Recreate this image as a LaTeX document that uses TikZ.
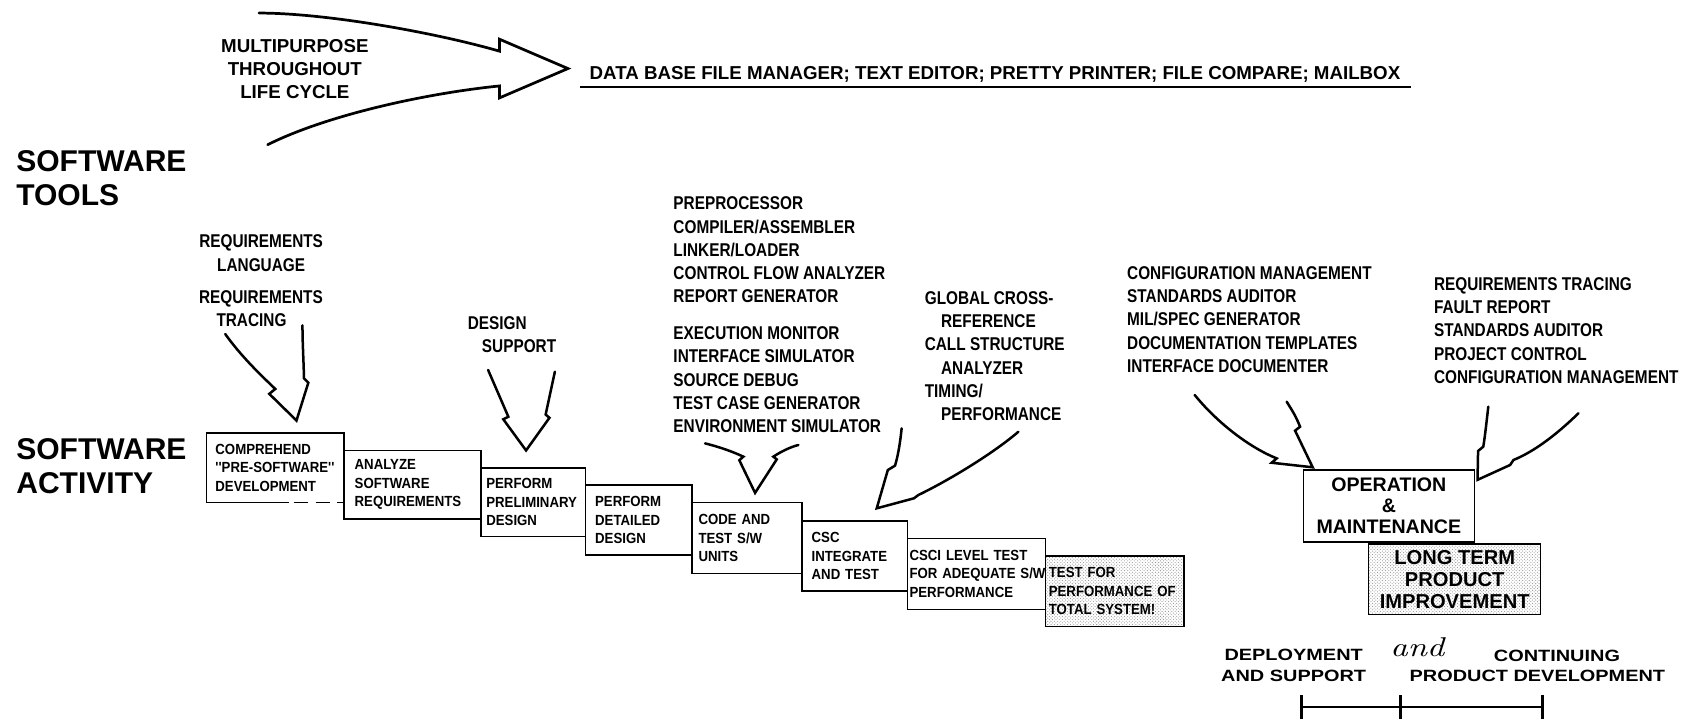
\documentclass[tikz,border=0pt]{standalone}
\usepackage{fontspec}
\setmainfont{Liberation Sans}
\newfontfamily\labfont[FakeStretch=0.83]{Liberation Sans}
\newfontfamily\cellfont[FakeStretch=0.9]{Liberation Sans}
\newfontfamily\widefont[FakeStretch=1.22]{Liberation Sans}
\newfontfamily\andfont[FakeStretch=1.25]{lmroman10-italic.otf}
\usetikzlibrary{patterns}
\begin{document}
\begin{tikzpicture}[x=1pt,y=-1pt,
  every node/.style={inner sep=0pt, outer sep=0pt},
  lab/.style={font={\labfont\bfseries\fontsize{17}{21.4}\selectfont}, align=left, anchor=north west},
  head/.style={font={\bfseries\fontsize{17.2}{21.5}\selectfont}},
  big/.style={font={\bfseries\fontsize{27.6}{31.5}\selectfont}, align=left, anchor=north west},
  stepbox/.style={draw, line width=1.4pt, font={\cellfont\bfseries\fontsize{13.5}{17}\selectfont},
    align=left, anchor=north west, inner ysep=0pt},
  stipple/.style={pattern=crosshatch dots, pattern color=black!45},
  tool/.style={line width=2.3pt, line join=miter, miter limit=4, line cap=round},
  phase/.style={font={\widefont\bfseries\fontsize{15}{19}\selectfont}, align=center},
]
\useasboundingbox (0,0) rectangle (1568,661);

% ---------- general purpose tools ----------
\node[head, align=center, anchor=north] (multi) at (271,35.8) {MULTIPURPOSE\\THROUGHOUT\\LIFE CYCLE};
\node[head, anchor=base west] (db) at (542,73.2)
  {DATA BASE FILE MANAGER; TEXT EDITOR; PRETTY PRINTER; FILE COMPARE; MAILBOX};
\draw[line width=2.4pt] (533,80) -- (1297,80);
\coordinate (mtip) at (522,63);
\coordinate (mtop) at (238,12);
\coordinate (mbot) at (246,133);
\draw[tool, line width=2.5pt] (mtop) .. controls (300,12) and (400,30) .. (459,47) -- (459,36) -- (mtip)
  -- (459,90) -- (459,79) .. controls (390,86) and (300,106) .. (mbot);

% ---------- row headings ----------
\node[big] (tools) at (15,138.1) {SOFTWARE\\TOOLS};
\node[big] (activity) at (15,403.1) {SOFTWARE\\ACTIVITY};

% ---------- tool lists ----------
\node[lab, align=center, anchor=north] (rlang) at (240,215.9) {REQUIREMENTS\\LANGUAGE};
\node[lab] (rtrace) at (183,266.9) {REQUIREMENTS\\\hspace*{16pt}TRACING};
\node[lab] (dsup) at (430,290.9) {DESIGN\\\hspace*{13pt}SUPPORT};
\node[lab] (ctools) at (619,180.9) {PREPROCESSOR\\COMPILER/ASSEMBLER\\LINKER/LOADER\\CONTROL FLOW ANALYZER\\REPORT GENERATOR\\[12.3pt]EXECUTION MONITOR\\INTERFACE SIMULATOR\\SOURCE DEBUG\\TEST CASE GENERATOR\\ENVIRONMENT SIMULATOR};
\node[lab] (xref) at (850,267.9) {GLOBAL CROSS-\\\hspace*{15pt}REFERENCE\\CALL STRUCTURE\\\hspace*{15pt}ANALYZER\\TIMING/\\\hspace*{15pt}PERFORMANCE};
\node[lab] (cmtools) at (1036,244.9) {CONFIGURATION MANAGEMENT\\STANDARDS AUDITOR\\MIL/SPEC GENERATOR\\DOCUMENTATION TEMPLATES\\INTERFACE DOCUMENTER};
\node[lab] (pitools) at (1318,254.9) {REQUIREMENTS TRACING\\FAULT REPORT\\STANDARDS AUDITOR\\PROJECT CONTROL\\CONFIGURATION MANAGEMENT};

% ---------- activity staircase ----------
\node[stepbox, draw=none, text width=110pt, inner xsep=8pt, minimum height=64pt] (b1) at (190,398)
  {COMPREHEND\\''PRE-SOFTWARE''\\DEVELOPMENT};
\draw[line width=1.4pt] (b1.south east) -- (b1.north east) -- (b1.north west) -- (b1.south west) -- ++(76,0);
\draw[line width=1.4pt, dash pattern=on 13pt off 7pt] ([xshift=80pt]b1.south west) -- (b1.south east);
\node[stepbox, text width=106pt, inner xsep=10pt, minimum height=63pt] (b2) at (316,414)
  {ANALYZE\\SOFTWARE\\REQUIREMENTS};
\node[stepbox, text width=86pt, inner xsep=5pt, minimum height=63pt] (b3) at (442,430)
  {PERFORM\\PRELIMINARY\\DESIGN};
\node[stepbox, text width=80pt, inner xsep=9pt, minimum height=64pt] (b4) at (538,446)
  {PERFORM\\DETAILED\\DESIGN};
\node[stepbox, text width=89pt, inner xsep=6pt, minimum height=65pt] (b5) at (636,462)
  {CODE AND\\TEST S/W\\UNITS};
\node[stepbox, text width=79pt, inner xsep=9pt, minimum height=64pt] (b6) at (737,479)
  {CSC\\INTEGRATE\\AND TEST};
\node[stepbox, text width=123pt, inner xsep=2pt, minimum height=65pt] (b7) at (834,495)
  {CSCI LEVEL TEST\\\mbox{FOR ADEQUATE S/W}\\PERFORMANCE};
\node[stepbox, stipple, text width=121pt, inner xsep=3pt, minimum height=65pt] (b8) at (961,511)
  {TEST FOR\\PERFORMANCE OF\\TOTAL SYSTEM!};

\node[draw, line width=1.4pt, minimum width=157pt, minimum height=66pt, align=center,
  font={\bfseries\fontsize{18}{19.5}\selectfont}] (om) at (1276.5,465) {OPERATION\\\&\\MAINTENANCE};
\node[draw, line width=1.4pt, stipple, minimum width=158pt, minimum height=65pt, align=center,
  font={\bfseries\fontsize{18.5}{20}\selectfont}] (ltpi) at (1337,532.5) {LONG TERM\\PRODUCT\\IMPROVEMENT};

% ---------- tool arrows into the activities ----------
\coordinate (r1L) at (207,307); \coordinate (r1R) at (278,299); \coordinate (r1T) at (272.5,386.5);
\draw[tool] (r1L) .. controls (222,328) and (240,345) .. (253,357.5) -- (247.5,362) -- (r1T)
  -- (283.4,351.7) -- (279.4,347.7) .. controls (279,330) and (278,315) .. (r1R);

\coordinate (dL) at (448.6,340); \coordinate (dR) at (510,341.6); \coordinate (dT) at (483.5,414);
\draw[tool] (dL) -- (467.2,383) -- (462.6,385.4) -- (dT) -- (505,384) -- (501.5,381) -- (dR);

\coordinate (cL) at (648,407.5); \coordinate (cR) at (733.8,409); \coordinate (cT) at (694,453);
\draw[tool] (cL) .. controls (662,411) and (673,415) .. (683.2,419.7) -- (679.5,423) -- (cT)
  -- (713.9,422.2) -- (710.8,419.7) .. controls (718,415) and (726,411) .. (cR);

\coordinate (iL) at (828.7,393.7); \coordinate (iR) at (936,396.8); \coordinate (iT) at (805.8,467.2);
\draw[tool] (iL) .. controls (827,410) and (825,420) .. (822.6,428) -- (816,432) -- (iT)
  -- (840,458) -- (844,455) .. controls (875,440) and (915,415) .. (iR);

\coordinate (oA) at (1098,363); \coordinate (oB) at (1182.6,369.2); \coordinate (oT1) at (1206.5,429.5);
\draw[tool] (oA) .. controls (1120,390) and (1150,412) .. (1173.4,421.3) -- (1168.8,425.3) -- (oT1)
  -- (1190.3,395.8) -- (1194.9,392.2) .. controls (1190,380) and (1186,375) .. (oB);

\coordinate (oC) at (1367.9,373.8); \coordinate (oD) at (1450.7,379.9); \coordinate (oT2) at (1358,441);
\draw[tool] (oC) .. controls (1366,390) and (1365,400) .. (1363.3,410.5) -- (1358.5,414.5) -- (oT2)
  -- (1387.9,427.4) -- (1391,422.8) .. controls (1410,415) and (1430,400) .. (oD);

% ---------- life cycle phases ----------
\node[phase] (deploy) at (1189,611.5) {DEPLOYMENT\\AND SUPPORT};
\node[phase] (contin) at (1413,612) {\hspace*{36pt}CONTINUING\\PRODUCT DEVELOPMENT};
\node[anchor=base west, font={\andfont\fontsize{25}{25}\selectfont}] (and) at (1278,603) {and};
\coordinate (t0) at (1196,650); \coordinate (t1) at (1287,650); \coordinate (t2) at (1418,650);
\draw[line width=2.2pt] (t0) -- (t2);
\foreach \t in {t0,t1,t2} \draw[line width=2.8pt] (\t) ++(0,-11) -- ++(0,22);
\end{tikzpicture}
\end{document}
